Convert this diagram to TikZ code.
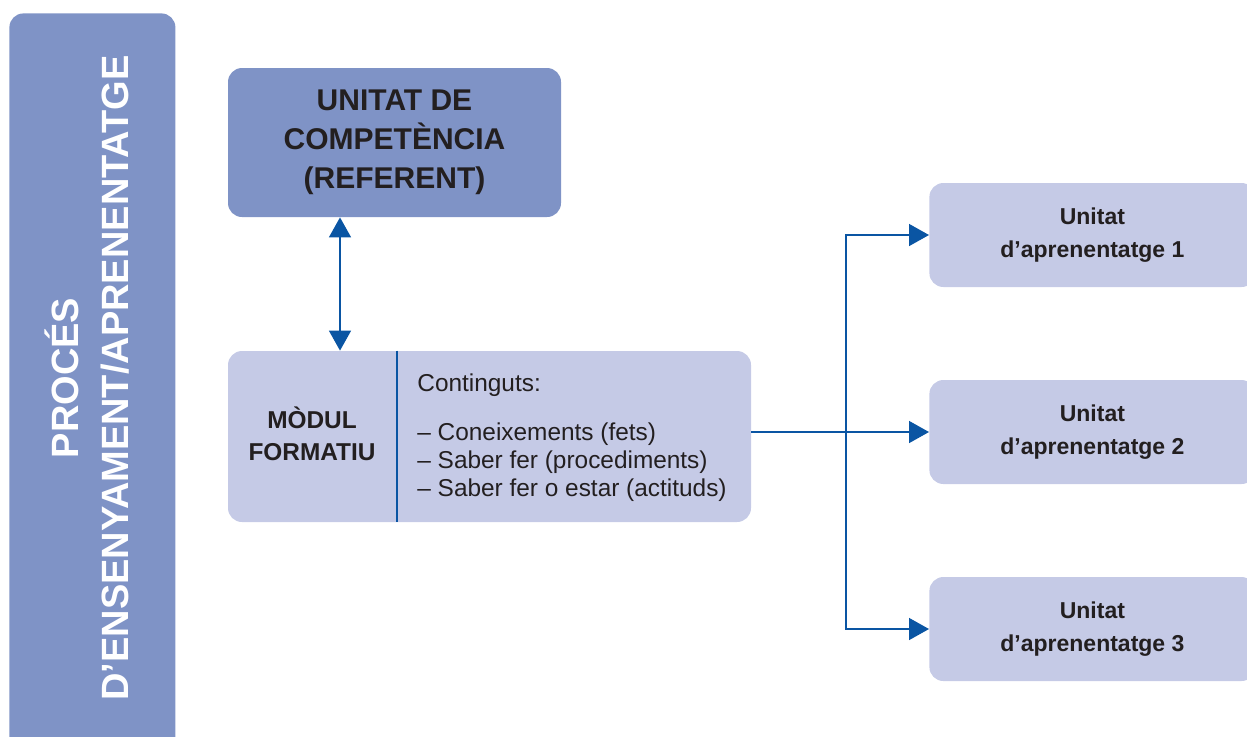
\documentclass[tikz,border=0pt]{standalone}
\usepackage{fontspec}
\setmainfont{Liberation Sans}
\usetikzlibrary{arrows.meta}
\definecolor{barblue}{HTML}{7F93C6}
\definecolor{boxlila}{HTML}{C5CAE6}
\definecolor{linkblue}{HTML}{0A55A3}
\definecolor{txtdark}{HTML}{231F20}
\begin{document}
\begin{tikzpicture}[x=0.5pt, y=-0.5pt,
		darkbox/.style={fill=barblue, rounded corners=7pt, inner sep=0},
		lightbox/.style={fill=boxlila, rounded corners=7pt, inner sep=0},
		link/.style={draw=linkblue, line width=0.75pt},
		tip/.style={-{Triangle[width=11pt,length=10pt]}},
		bothtips/.style={{Triangle[width=11pt,length=10pt]}-{Triangle[width=11pt,length=10pt]}}]
	\useasboundingbox (0,0) rectangle (1247,736);
	% side bar
	\node (bar) [darkbox, minimum width=83pt, minimum height=375pt, anchor=north west] at (9,13) {};
	\node (bartitle) [rotate=90, text=white, align=center, font=\bfseries\fontsize{19}{25}\selectfont] at (87,378) {PROCÉS\\D’ENSENYAMENT/APRENENTATGE};
	% boxes
	\node (unitat) [darkbox, minimum width=166.5pt, minimum height=74.5pt, text=txtdark, align=center, font=\bfseries\fontsize{15}{19.5}\selectfont] at (394.5,142.5) {UNITAT DE\\COMPETÈNCIA\\(REFERENT)};
	\node (modul) [lightbox, minimum width=261.5pt, minimum height=85.5pt] at (489.5,436.5) {};
	\node (modtitle) [text=txtdark, align=center, font=\bfseries\fontsize{12.2}{16}\selectfont] at (312,434) {MÒDUL\\FORMATIU};
	\node (continguts) [text=txtdark, align=left, anchor=west, inner sep=0, font=\fontsize{12.2}{14}\selectfont] at (417,438) {Continguts:\\[10.5pt]– Coneixements (fets)\\– Saber fer (procediments)\\– Saber fer o estar (actituds)};
	\foreach \i/\y in {1/235,2/432,3/629}
		\node (ua\i) [lightbox, minimum width=163pt, minimum height=52pt, anchor=west, text=txtdark, align=center, font=\bfseries\fontsize{11.5}{16.5}\selectfont] at (929,\y) {Unitat\\d’aprenentatge \i};
	% connectors
	\coordinate (div) at (397,436);
	\coordinate (ax) at (340,0);
	\coordinate (split) at (846,432);
	\draw[link] (div |- modul.north) -- (div |- modul.south);
	\draw[link, bothtips] (unitat.south -| ax) -- (modul.north -| ax);
	\draw[link] (modul.east |- split) -- (split);
	\foreach \i in {1,2,3}
		\draw[link, tip] (split) |- (ua\i.west);
\end{tikzpicture}
\end{document}
